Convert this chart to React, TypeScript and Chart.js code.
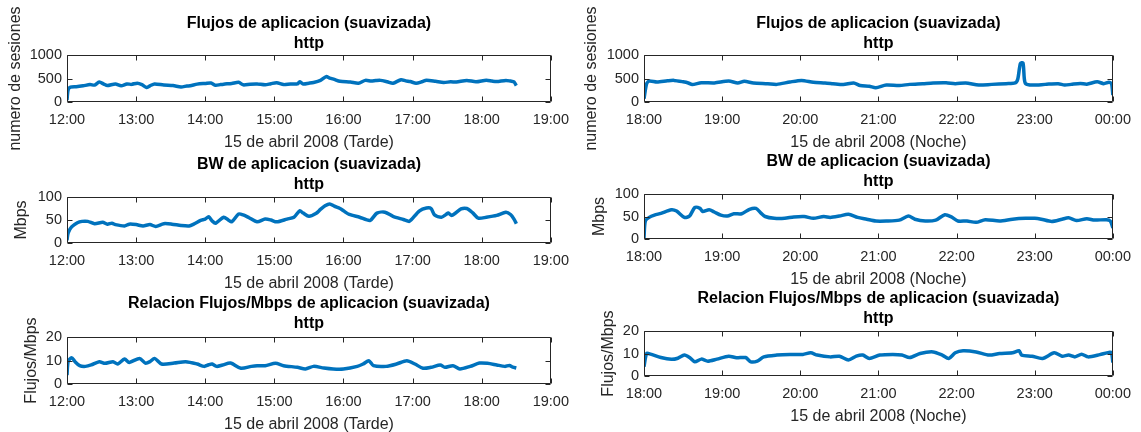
import React, { useEffect, useRef } from "react";
import { Chart, registerables } from "chart.js";

Chart.register(...registerables);

const FONT = "'Liberation Sans', Arial, Helvetica, sans-serif";
const TEXT = "#262626";
const LINE = "#0072BD";

// ---------- Tarde (12:00 - 19:00), minutes from 12:00 ----------
const flujosTardeMin = [0,1,3,8,14,20,24,28,32,35, 42,47,52,56,61,65,69,72,76,84, 92,99,104,107,113,120,125,129,133,136, 143,149,153,159,165,172,177,182,188,194, 200,202,205,210,214,220,225,228,232,237, 246,253,259,264,268,272,278,283,290,294, 298,303,308,312,320,327,333,338,347,355, 364,369,373,381,385,388,390];
const flujosTarde = [40,260,315,325,345,370,360,425,380,350, 385,345,385,375,400,370,310,345,385,360, 350,320,340,345,380,395,405,355,370,380, 395,420,365,380,385,365,390,410,370,385, 385,430,385,400,415,460,540,510,480,440, 425,400,460,445,455,460,430,400,475,450, 435,400,430,465,440,415,430,425,460,430, 465,445,435,460,445,430,350];

const bwTardeMin = [0,1,4,9,13,18,24,31,35,39, 42,50,54,60,66,72,77,84,91,99, 106,110,116,120,123,126,129,136,140,143, 149,153,158,165,172,177,182,191,197,202, 205,210,216,220,224,228,232,237,240,245, 254,263,269,276,283,292,297,299,306,312, 316,319,325,329,331,334,342,347,352,357, 364,373,381,385,388,390];
const bwTarde = [6,22,35,44,47,47,42,45,41,43, 40,37,41,40,37,40,36,42,41,38, 37,41,49,52,57,48,43,56,50,46, 63,61,55,46,52,50,46,52,56,70, 65,58,64,73,81,85,80,75,70,62, 56,49,65,67,58,51,47,51,70,76, 75,61,56,62,65,60,74,75,66,54, 56,60,67,62,52,42];

const ratioTardeMin = [0,1,4,7,11,16,21,28,33,40, 44,50,54,63,68,72,76,82,93,103, 113,119,123,126,130,135,142,151,160,165, 172,181,188,200,207,214,223,231,240,252, 257,262,266,277,286,295,302,309,316,324, 328,335,341,350,358,365,373,380,384,387, 390];
const ratioTarde = [3.8,9.5,11.2,9.5,7.8,7.5,8.1,9.5,8.8,9.5, 8.5,10.6,9.2,10.9,8.9,9.5,10.9,8.5,8.9,9.5, 8.5,7.5,8.2,8.5,7.5,8.1,8.9,6.7,7.5,7.8, 7.8,8.8,7.8,7.1,6.4,7.5,6.8,6.4,6.4,7.5, 8.5,9.9,7.8,7.5,8.5,9.9,8.5,6.7,7.1,8.1, 7.1,7.8,6.4,7.5,8.9,8.8,8.1,7.5,7.9,7.2, 6.8];

// ---------- Noche (18:00 - 00:00), minutes from 18:00 ----------
const flujosNocheMin = [0,2,4,10,18,23,30,34,37,44, 54,65,72,77,84,95,102,112,121,130, 139,145,153,161,166,173,178,186,196,204, 214,222,232,239,247,257,267,278,285,287, 289,291,292,293,298,308,318,323,328,335, 340,348,353,357,359,360];
const flujosNoche = [70,390,445,425,450,460,430,405,370,410, 405,445,405,440,405,390,375,425,460,420, 405,390,370,405,350,335,305,360,350,375, 390,405,410,390,405,360,375,390,405,490, 820,830,500,390,360,375,390,360,375,395, 380,430,390,420,390,150];

const bwNocheMin = [0,1,4,8,13,21,25,31,35,39, 43,45,50,54,59,64,69,75,81,86, 90,93,100,108,115,123,130,138,143,150, 157,164,171,178,186,196,203,208,216,224, 231,236,241,248,255,262,273,283,293,300, 305,313,321,326,332,340,346,355,358,360];
const bwNoche = [2,40,48,53,57,65,62,48,51,70, 68,61,65,60,53,51,56,56,66,68, 57,50,46,46,49,50,46,50,48,51, 55,48,44,40,40,42,51,44,40,42, 54,49,40,40,37,43,40,44,46,46, 44,39,44,47,41,45,42,43,40,25];

const ratioNocheMin = [0,2,5,13,21,26,31,35,39,44, 49,56,65,71,78,82,87,92,102,112, 122,128,133,143,150,157,163,168,173,181, 191,198,204,212,222,229,234,239,245,255, 265,273,283,288,290,298,306,315,321,326, 331,336,341,350,357,359,360];
const ratioNoche = [4.1,10,9.7,8.2,7.4,7.9,9.3,8.2,6.3,7.5, 6.6,7.5,8.8,8.1,8.2,6.3,6.6,8.5,9.3,9.6, 9.6,10.3,9.3,8.5,8.8,7.1,8.8,9.3,7.8,9.3, 9.6,9.3,8.2,10,10.7,9.3,7.8,10.3,11.2,10.7, 9.3,10,10.3,11.2,9.3,8.8,7.8,10.3,8.8,9.3, 8.5,9.7,8.5,9.5,10.5,10.2,6];

const titles = [
  "Flujos de aplicacion (suavizada)",
  "BW de aplicacion (suavizada)",
  "Relacion Flujos/Mbps de aplicacion (suavizada)",
];
const subTitle = "http";
const yTitles = ["numero de sesiones", "Mbps", "Flujos/Mbps"];
const yMaxes = [1000, 100, 20];
const xTitleTarde = "15 de abril 2008 (Tarde)";
const xTitleNoche = "15 de abril 2008 (Noche)";

type PanelSpec = {
  L: number; T: number; R: number; B: number;
  yW: number; topH: number; rightPad: number; titleGap: number;
  startHour: number; spanMin: number;
  title: string; yTitle: string; xTitle: string; yMax: number;
  times: number[]; values: number[];
};

const X_H = 50;
const BOTTOM_PAD = 6;

const panels: PanelSpec[] = [
  { L: 67, T: 55, R: 553, B: 102, yW: 61, topH: 55, rightPad: 25, titleGap: 1, startHour: 12, spanMin: 420, title: titles[0], yTitle: yTitles[0], xTitle: xTitleTarde, yMax: yMaxes[0], times: flujosTardeMin, values: flujosTarde },
  { L: 67, T: 197, R: 553, B: 243, yW: 55, topH: 50, rightPad: 25, titleGap: 2, startHour: 12, spanMin: 420, title: titles[1], yTitle: yTitles[1], xTitle: xTitleTarde, yMax: yMaxes[1], times: bwTardeMin, values: bwTarde },
  { L: 67, T: 337, R: 553, B: 384, yW: 45, topH: 50, rightPad: 25, titleGap: 3, startHour: 12, spanMin: 420, title: titles[2], yTitle: yTitles[2], xTitle: xTitleTarde, yMax: yMaxes[2], times: ratioTardeMin, values: ratioTarde },
  { L: 644, T: 55, R: 1118, B: 102, yW: 62, topH: 55, rightPad: 22, titleGap: 1, startHour: 18, spanMin: 360, title: titles[0], yTitle: yTitles[0], xTitle: xTitleNoche, yMax: yMaxes[0], times: flujosNocheMin, values: flujosNoche },
  { L: 644, T: 194, R: 1118, B: 239, yW: 54, topH: 50, rightPad: 22, titleGap: 2, startHour: 18, spanMin: 360, title: titles[1], yTitle: yTitles[1], xTitle: xTitleNoche, yMax: yMaxes[1], times: bwNocheMin, values: bwNoche },
  { L: 644, T: 331, R: 1118, B: 376, yW: 45, topH: 50, rightPad: 22, titleGap: 2, startHour: 18, spanMin: 360, title: titles[2], yTitle: yTitles[2], xTitle: xTitleNoche, yMax: yMaxes[2], times: ratioNocheMin, values: ratioNoche },
];

const pad2 = (n: number) => (n < 10 ? "0" + n : String(n));

const boxPlugin = {
  id: "matlabBox",
  afterDraw(chart: any) {
    const { ctx, chartArea: a, scales } = chart;
    const xs = scales.x;
    const ys = scales.y;
    const tl = 5;
    ctx.save();
    ctx.strokeStyle = TEXT;
    ctx.lineWidth = 1;
    ctx.beginPath();
    const l = Math.round(a.left) + 0.5;
    const r = Math.round(a.right) - 0.5;
    const t = Math.round(a.top) + 0.5;
    const b = Math.round(a.bottom) - 0.5;
    ctx.rect(l, t, r - l, b - t);
    xs.ticks.forEach((tk: any) => {
      const px = Math.round(xs.getPixelForValue(tk.value)) + 0.5;
      ctx.moveTo(px, b);
      ctx.lineTo(px, b - tl);
      ctx.moveTo(px, t);
      ctx.lineTo(px, t + tl);
    });
    ys.ticks.forEach((tk: any) => {
      const py = Math.round(ys.getPixelForValue(tk.value)) + 0.5;
      ctx.moveTo(l, py);
      ctx.lineTo(l + tl, py);
      ctx.moveTo(r, py);
      ctx.lineTo(r - tl, py);
    });
    ctx.stroke();
    ctx.restore();
  },
};

function Panel({ p }: { p: PanelSpec }) {
  const ref = useRef<HTMLCanvasElement>(null);
  const width = p.yW + (p.R - p.L) + p.rightPad;
  const height = p.topH + (p.B - p.T) + X_H + BOTTOM_PAD;
  const left = p.L - p.yW;
  const top = p.T - p.topH;

  useEffect(() => {
    const chart = new Chart(ref.current as HTMLCanvasElement, {
      type: "line",
      data: {
        datasets: [
          {
            data: p.times.map((t, i) => ({ x: t, y: p.values[i] })),
            borderColor: LINE,
            backgroundColor: LINE,
            borderWidth: 3.5,
            pointRadius: 0,
            tension: 0.25,
            fill: false,
          },
        ],
      },
      options: {
        responsive: false,
        maintainAspectRatio: false,
        animation: false,
        devicePixelRatio: 1,
        events: [],
        layout: { padding: { left: 0, top: 0, right: p.rightPad, bottom: BOTTOM_PAD } },
        plugins: {
          legend: { display: false },
          tooltip: { enabled: false },
          title: {
            display: true,
            text: [p.title, subTitle],
            color: "#000000",
            fullSize: false,
            font: { family: FONT, size: 16, weight: "bold", lineHeight: 1.25 },
            padding: { top: p.topH - 40 - p.titleGap, bottom: p.titleGap },
          },
        },
        scales: {
          x: {
            type: "linear",
            min: 0,
            max: p.spanMin,
            grid: { display: false, drawTicks: false, tickLength: 0 },
            border: { display: false },
            ticks: {
              stepSize: 60,
              padding: 9,
              color: TEXT,
              font: { family: FONT, size: 14.5 },
              maxRotation: 0,
              autoSkip: false,
              callback: (v: any) => {
                const total = p.startHour * 60 + Number(v);
                const h = Math.floor(total / 60) % 24;
                return pad2(h) + ":" + pad2(total % 60);
              },
            },
            title: {
              display: true,
              text: p.xTitle,
              color: TEXT,
              font: { family: FONT, size: 16 },
              padding: 0,
            },
            afterFit: (s: any) => {
              s.height = X_H;
            },
          },
          y: {
            type: "linear",
            min: 0,
            max: p.yMax,
            grid: { display: false, drawTicks: false, tickLength: 0 },
            border: { display: false },
            ticks: {
              stepSize: p.yMax / 2,
              padding: 5,
              color: TEXT,
              font: { family: FONT, size: 14.5 },
              callback: (v: any) => String(v),
            },
            title: {
              display: true,
              text: p.yTitle,
              color: TEXT,
              font: { family: FONT, size: 16 },
              padding: 0,
            },
            afterFit: (s: any) => {
              s.width = p.yW;
            },
          },
        },
      } as any,
      plugins: [boxPlugin],
    });
    return () => chart.destroy();
  }, []);

  return (
    <canvas
      ref={ref}
      width={width}
      height={height}
      style={{ position: "absolute", left, top, width, height }}
    />
  );
}

export default function App() {
  return (
    <div
      style={{
        position: "fixed",
        left: 0,
        top: 0,
        width: 1141,
        height: 432,
        overflow: "hidden",
        background: "#ffffff",
      }}
    >
      {panels.map((p, i) => (
        <Panel key={i} p={p} />
      ))}
    </div>
  );
}
